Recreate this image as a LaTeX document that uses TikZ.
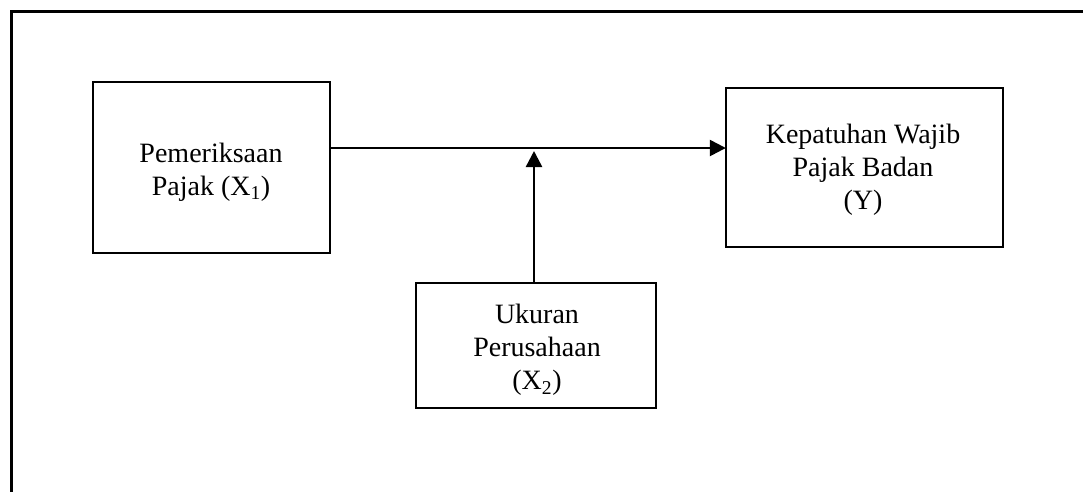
\documentclass[tikz,border=0pt]{standalone}
\usepackage{fontspec}
\setmainfont{Liberation Serif}
\usetikzlibrary{arrows.meta}
\begin{document}
\begin{tikzpicture}[x=1pt,y=-1pt,
  frameline/.style={line width=3pt},
  boxshape/.style={draw,line width=2.5pt},
  lbl/.style={align=center,inner sep=0pt,font=\fontsize{28}{33}\selectfont},
  conn/.style={line width=2.5pt,-{Triangle[length=16pt,width=16pt]}}]
\useasboundingbox (0,0) rectangle (1083,491);
\fill[white] (0,0) rectangle (1083,491);
% outer frame (only top and left edges visible)
\coordinate (fbl) at (11,495);
\coordinate (ftl) at (11,11.5);
\coordinate (ftr) at (1090,11.5);
\draw[frameline] (fbl) -- (ftl) -- (ftr);
% boxes
\draw[boxshape] (93,82) rectangle (330,253);
\node[inner sep=0pt,minimum width=237pt,minimum height=171pt] (bx1) at (211.5,167.5) {};
\draw[boxshape] (726,88) rectangle (1003,247);
\node[inner sep=0pt,minimum width=277pt,minimum height=159pt] (by) at (864.5,167.5) {};
\draw[boxshape] (416,283) rectangle (656,408);
\node[inner sep=0pt,minimum width=240pt,minimum height=125pt] (bx2) at (536,345.5) {};
% labels
\node[lbl] (t1) at (211,172) {Pemeriksaan\\Pajak (X\textsubscript{1})};
\node[lbl] (ty) at (863,170) {Kepatuhan Wajib\\Pajak Badan\\(Y)};
\node[lbl] (t2) at (537,350) {Ukuran\\Perusahaan\\(X\textsubscript{2})};
% connectors
\coordinate (hy) at (534,148);
\coordinate (vtip) at (534,151);
\draw[conn] (bx1.east |- hy) -- (by.west |- hy);
\draw[conn] (bx2.north -| vtip) -- (vtip);
\end{tikzpicture}
\end{document}
